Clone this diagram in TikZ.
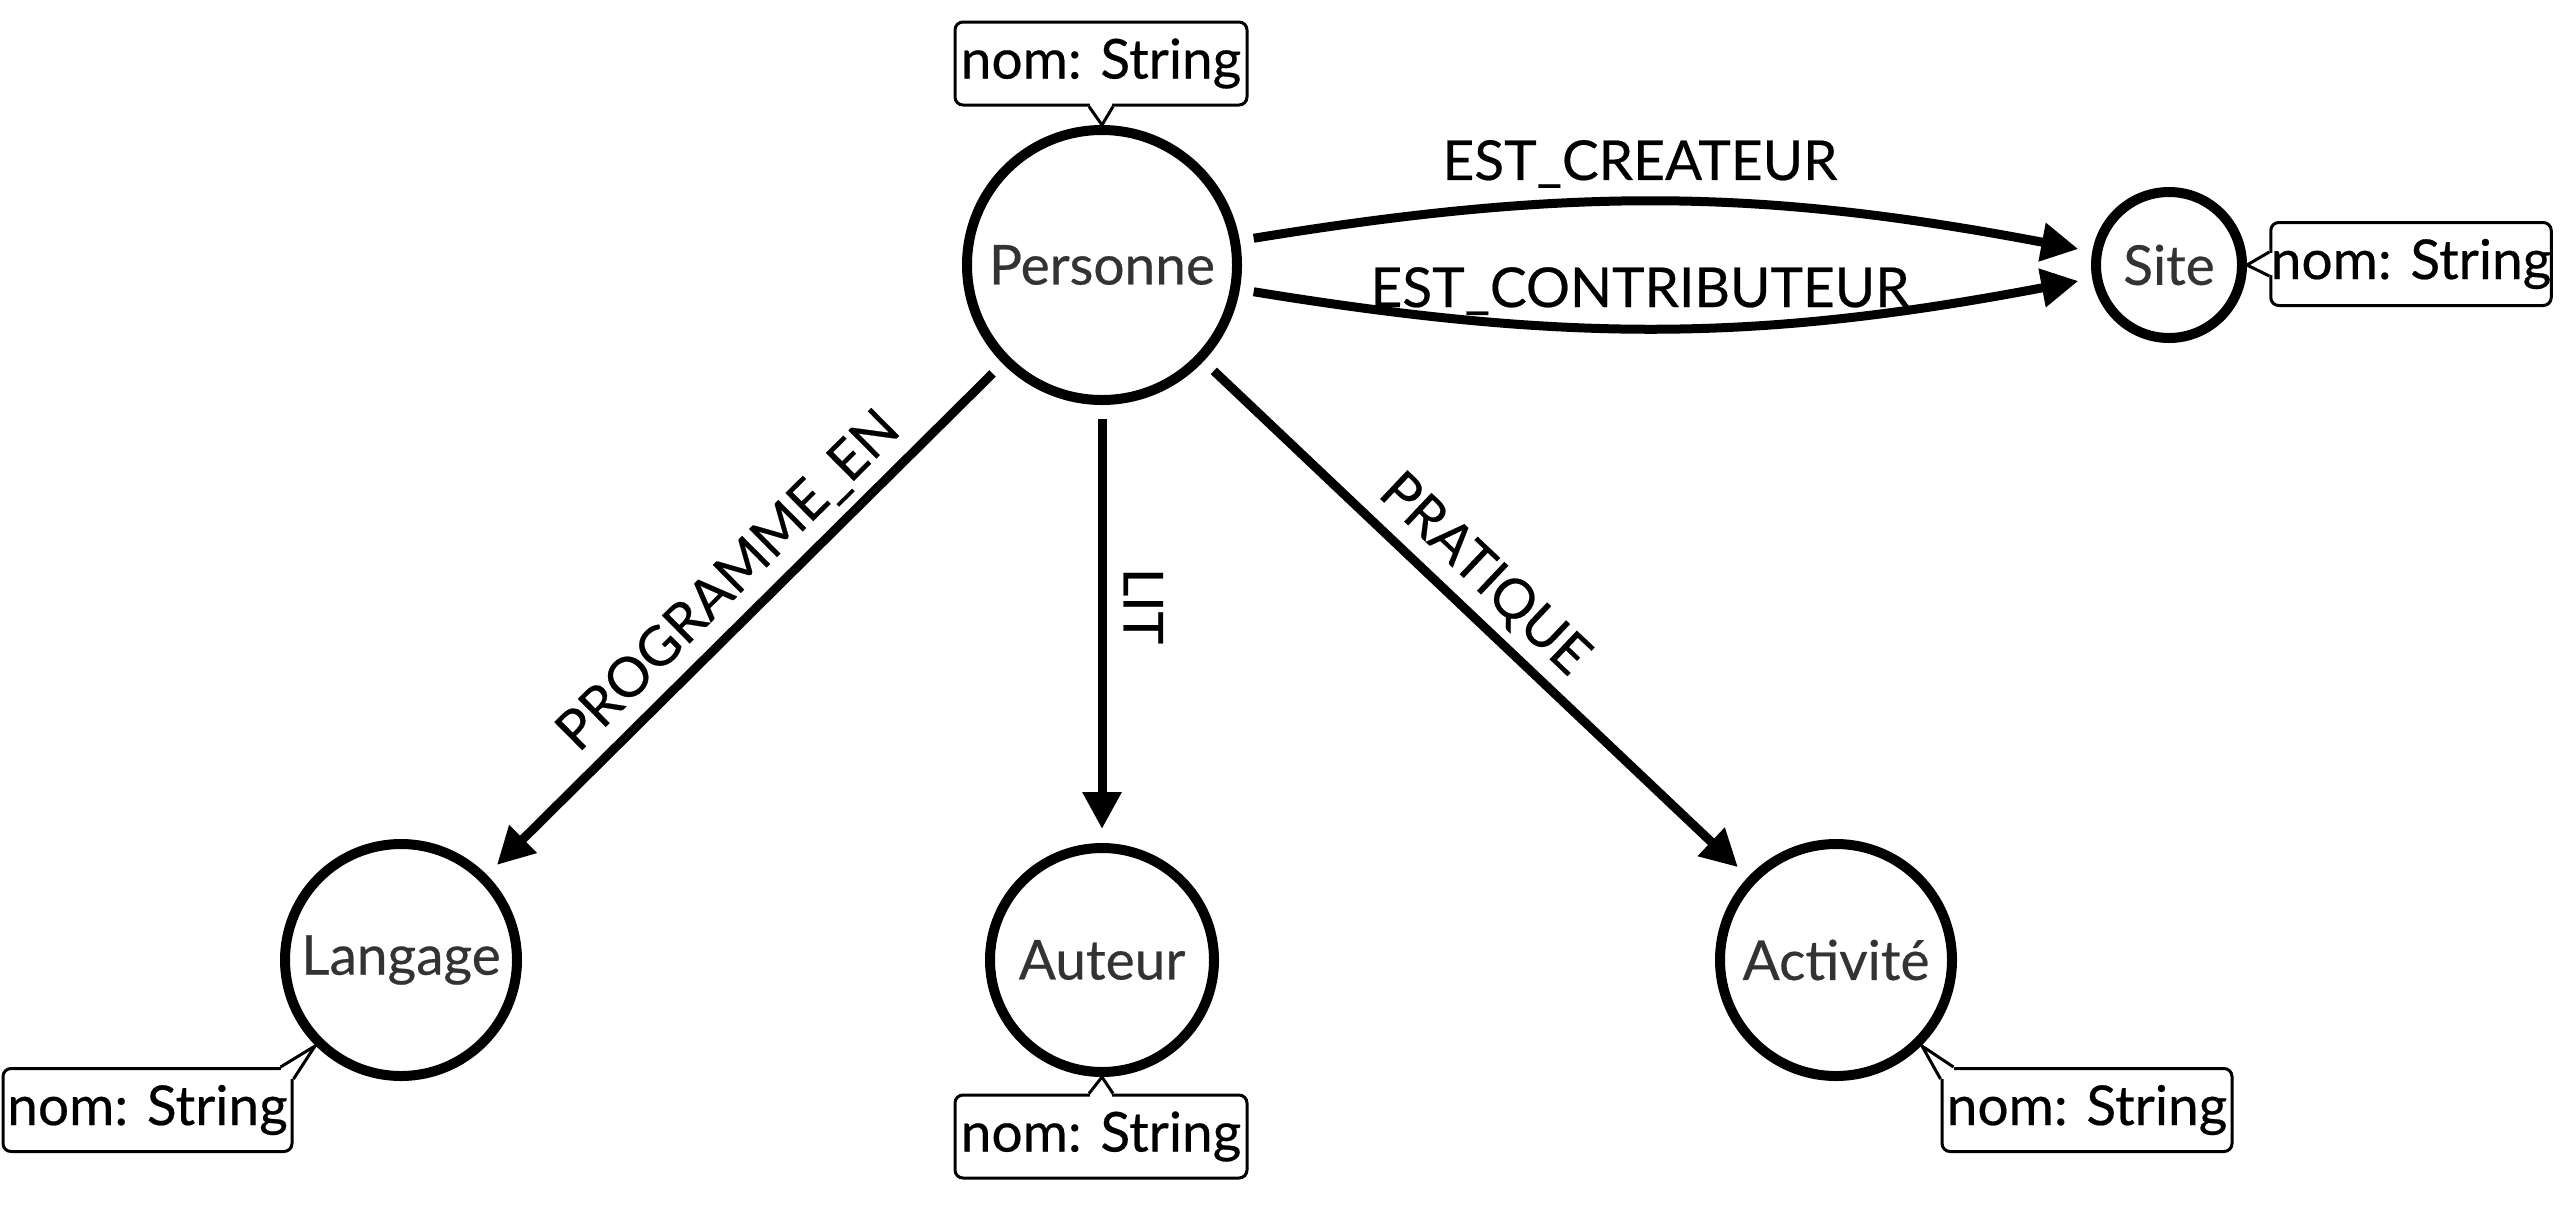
\documentclass[tikz,border=0pt]{standalone}
\usepackage{fontspec}
\setmainfont{Lato}[UprightFeatures={FakeBold=0.4}]
\usetikzlibrary{arrows.meta,calc}
\definecolor{nodetext}{HTML}{333333}
\begin{document}
\begin{tikzpicture}[x=0.5pt,y=-0.5pt,
  ent/.style={circle, draw=black, line width=5pt, fill=white, text=nodetext,
    font=\fontsize{27.5}{30}\selectfont, inner sep=0pt, outer sep=9.5pt},
  attr/.style={draw=black, line width=1.5pt, rounded corners=4pt, fill=white,
    font=\fontsize{27.5}{30}\selectfont, inner sep=0pt, minimum height=41.5pt},
  rel/.style={line width=4.5pt, -{Triangle[length=18.5pt,width=18.5pt]}},
  lbl/.style={font=\fontsize{27.5}{30}\selectfont, inner sep=0pt, text depth=0pt, above=8.5pt},
  ptr/.style={line width=1.5pt, line join=miter}
]
\fill[white] (0,0) rectangle (2560,1206);
\useasboundingbox (0,0) rectangle (2560,1206);

% entities
\node[ent, minimum size=135pt] (P) at (1102,265) {Personne};
\node[ent, minimum size=73pt]  (S) at (2169,265) {Site};
\node[ent, minimum size=116pt] (L) at (401,960) {Langage};
\node[ent, minimum size=112pt] (A) at (1102,960) {Auteur};
\node[ent, minimum size=116pt] (C) at (1836,960) {Activité};

% relations
\draw[rel] (P) to[bend left=10] node[lbl, pos=0.465] {EST\_CREATEUR} (S);
\draw[rel] (P) to[bend right=10] node[lbl, pos=0.465] {EST\_CONTRIBUTEUR} (S);
\draw[rel] (P) -- node[lbl, sloped, pos=0.478] {PROGRAMME\_EN} (L);
\draw[rel] (P) -- node[lbl, sloped, allow upside down, pos=0.456] {LIT} (A);
\draw[rel] (P) -- node[lbl, sloped, pos=0.466] {PRATIQUE} (C);

% attribute callouts
% Personne
\node[attr, minimum width=146pt] (cp) at (1101,63.5) {nom: String};
\coordinate (tp) at ($(P.center)+(0,-140)$);
\fill[white] ($(cp.south)+(-11,-4)$) rectangle ($(cp.south)+(11,4)$);
\draw[ptr] ($(cp.south)+(-12,0)$) -- (tp) -- ($(cp.south)+(12,0)$);

% Site
\node[attr, minimum width=140pt] (cs) at (2411,264) {nom: String};
\coordinate (ts) at ($(S.center)+(78,0)$);
\fill[white] ($(cs.west)+(-4,-11)$) rectangle ($(cs.west)+(4,11)$);
\draw[ptr] ($(cs.west)+(0,-12)$) -- (ts) -- ($(cs.west)+(0,12)$);

% Langage
\node[attr, minimum width=144.5pt] (cl) at (147.5,1110) {nom: String};
\coordinate (tl) at ($(L.center)+(-86,86)$);
\fill[white] ($(cl.north east)+(-13,-4)$) rectangle ($(cl.north east)+(5,12)$);
\draw[ptr] ($(cl.north east)+(-13,0)$) -- (tl) -- ($(cl.north east)+(0,12)$);

% Auteur
\node[attr, minimum width=146pt] (cu) at (1101,1136.5) {nom: String};
\coordinate (tu) at ($(A.center)+(0,117)$);
\fill[white] ($(cu.north)+(-11,-4)$) rectangle ($(cu.north)+(11,4)$);
\draw[ptr] ($(cu.north)+(-12,0)$) -- (tu) -- ($(cu.north)+(12,0)$);

% Activite
\node[attr, minimum width=145pt] (ca) at (2087,1110) {nom: String};
\coordinate (ta) at ($(C.center)+(86,86)$);
\fill[white] ($(ca.north west)+(-5,-4)$) rectangle ($(ca.north west)+(13,12)$);
\draw[ptr] ($(ca.north west)+(13,0)$) -- (ta) -- ($(ca.north west)+(0,12)$);
\end{tikzpicture}
\end{document}
